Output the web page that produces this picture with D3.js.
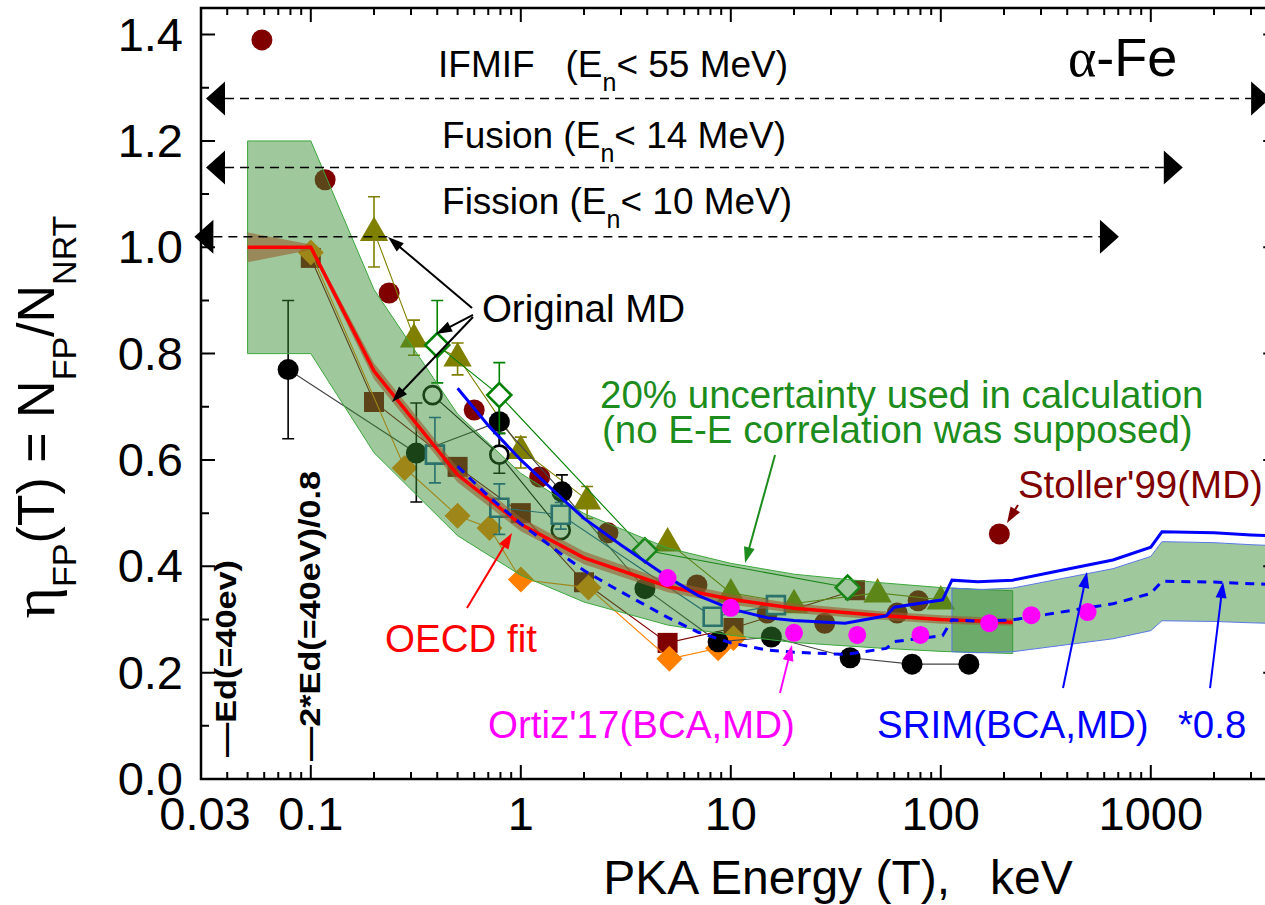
<!DOCTYPE html>
<html>
<head>
<meta charset="utf-8">
<script src="https://cdn.jsdelivr.net/npm/d3@7"></script>
<style>
  body { margin: 0; background: #fff; }
  svg { display: block; }
  text { font-family: "Liberation Sans", Arial, Helvetica, sans-serif; white-space: pre; }
</style>
</head>
<body>
<svg id="chart" width="1265" height="905"></svg>
<script>
// ---------------- axis ticks ----------------
const xTickValues = [0.03, 0.1, 1, 10, 100, 1000];
const xTickLabels = ["0.03", "0.1", "1", "10", "100", "1000"];
const yTickValues = [0, 0.2, 0.4, 0.6, 0.8, 1.0, 1.2, 1.4];
const yTickLabels = ["0.0", "0.2", "0.4", "0.6", "0.8", "1.0", "1.2", "1.4"];

// ---------------- OECD arc-dpa fit (keV, efficiency) ----------------
const fitEnergy = [0.05, 0.1, 0.2, 0.5, 1, 2, 5, 10, 20, 50, 100, 220];
const fitEta    = [1.0, 1.0, 0.767, 0.572, 0.479, 0.416, 0.362, 0.338, 0.321, 0.308, 0.300, 0.295];
const fitLow    = [0.972, 0.995, 0.752, 0.558, 0.466, 0.404, 0.351, 0.328, 0.312, 0.300, 0.292, 0.288];
const fitHigh   = [1.028, 1.005, 0.782, 0.586, 0.492, 0.428, 0.373, 0.348, 0.330, 0.316, 0.308, 0.302];
const uncertainty = 0.2;   // "20% uncertainty used in calculation"

// ---------------- SRIM (BCA,MD) ----------------
const srimEnergy = [0.5, 0.7, 1, 1.5, 2, 3, 5, 7, 10, 15, 20, 35, 55, 60, 102, 113, 150, 220, 320, 660, 1000, 1130, 2000, 3000, 4000];
const srimEta    = [0.735, 0.665, 0.60, 0.535, 0.49, 0.44, 0.38, 0.345, 0.32, 0.303, 0.298, 0.293, 0.307, 0.323, 0.337, 0.374, 0.371, 0.374, 0.387, 0.412, 0.436, 0.465, 0.463, 0.459, 0.457];
const srimScale = 0.8;        // "*0.8"
const srimBandFrom = 110;     // keV, start of the band around the scaled SRIM curve

// ---------------- Ortiz'17 (BCA,MD) ----------------
const ortizEnergy = [5, 10, 20, 40, 80, 170, 270, 500];
const ortizEta    = [0.378, 0.322, 0.275, 0.271, 0.271, 0.293, 0.308, 0.314];

// ---------------- Stoller'99 (MD) ----------------
const stollerEnergy = [190];
const stollerEta    = [0.461];

// ---------------- original MD sets ----------------
const mdCircleEnergy = [0.0585, 0.117, 0.236, 0.6, 1.23, 2.6, 6.9, 14.9, 28, 62, 78];
const mdCircleEta    = [1.39, 1.127, 0.914, 0.694, 0.568, 0.463, 0.365, 0.312, 0.293, 0.312, 0.335];

const mdSquareEnergy = [0.1, 0.2, 0.5, 1.0, 2.0, 5.0, 10.3, 39];
const mdSquareEta    = [0.98, 0.709, 0.587, 0.50, 0.37, 0.256, 0.284, 0.355];

const mdDiamondEnergy = [0.1, 0.28, 0.5, 0.71, 1.0, 2.1, 5.1, 8.7, 10.3];
const mdDiamondEta    = [0.99, 0.585, 0.495, 0.472, 0.375, 0.36, 0.226, 0.246, 0.265];

const mdTriangleEnergy = [0.2, 0.31, 0.5, 1.0, 2.07];
const mdTriangleEta    = [1.03, 0.83, 0.794, 0.62, 0.525];
const mdTriangleLow    = [0.963, 0.797, 0.76, 0.585, 0.49];
const mdTriangleHigh   = [1.095, 0.863, 0.82, 0.643, 0.55];

const mdTriangle2Energy = [5, 10, 20, 50, 100];
const mdTriangle2Eta    = [0.446, 0.35, 0.33, 0.35, 0.337];

const mdBlackEnergy = [0.078, 0.318, 0.79, 1.57, 3.9, 8.7, 15.6, 37, 73, 136];
const mdBlackEta    = [0.77, 0.613, 0.672, 0.54, 0.358, 0.258, 0.267, 0.228, 0.216, 0.216];
const mdBlackLow    = [0.64, 0.521, 0.61, 0.512, null, null, null, null, null, null];
const mdBlackHigh   = [0.90, 0.707, 0.73, 0.572, null, null, null, null, null, null];

const mdOpenEnergy = [0.38, 0.79, 1.55];
const mdOpenEta    = [0.722, 0.61, 0.468];
const mdOpenLow    = [null, 0.575, null];
const mdOpenHigh   = [null, 0.65, null];

const mdBlueEnergy = [0.39, 0.79, 1.55, 8.2, 16.4];
const mdBlueEta    = [0.61, 0.51, 0.497, 0.305, 0.327];
const mdBlueLow    = [0.557, 0.46, 0.47, null, null];
const mdBlueHigh   = [0.68, 0.555, 0.52, null, null];

const mdGreenEnergy = [0.4, 0.79, 3.9, 36];
const mdGreenEta    = [0.816, 0.722, 0.43, 0.36];
const mdGreenLow    = [0.745, 0.65, null, null];
const mdGreenHigh   = [0.9, 0.783, null, null];

// ---------------- neutron-source PKA ranges ----------------
const rangeNames  = ["IFMIF", "Fusion", "Fission"];
const rangeLimits = ["55", "14", "10"];
const rangeLevel  = [1.28, 1.15, 1.02];
const rangeMin    = [0.0317, 0.0317, 0.0279];
const rangeMax    = [3700, 1420, 705];

// displacement threshold (keV)
const Ed = 0.04;

// ---------------- scales ----------------
const svg = d3.select("#chart");
const x = d3.scaleLog().domain([0.03, 4000]).range([201, 201 + 210 * Math.log10(4000 / 0.03)]);
const y = d3.scaleLinear().domain([0, 1.45]).range([779, 8]);
const [X0, X1] = x.range();
const [Y0, Y1] = y.range();

svg.append("defs").append("clipPath").attr("id", "plot")
  .append("rect").attr("x", X0).attr("y", Y1).attr("width", X1 - X0).attr("height", Y0 - Y1);

const gData = svg.append("g").attr("clip-path", "url(#plot)");
const gBand = svg.append("g").attr("clip-path", "url(#plot)");
const gTop  = svg.append("g").attr("clip-path", "url(#plot)");
const gAnn  = svg.append("g");
const gAxes = svg.append("g");

const zip = (e, v) => e.map((d, i) => [d, v[i]]);
const line = d3.line().x(d => x(d[0])).y(d => y(d[1]));

function markerPath(shape, s) {
  switch (shape) {
    case "circle":   return `M${s},0A${s},${s} 0 1,1 ${-s},0A${s},${s} 0 1,1 ${s},0Z`;
    case "square":   return `M${-s},${-s}H${s}V${s}H${-s}Z`;
    case "diamond":  return `M0,${-s}L${s},0L0,${s}L${-s},0Z`;
    case "triangle": return `M0,${-s * 1.1}L${s * 1.05},${s * 0.72}L${-s * 1.05},${s * 0.72}Z`;
  }
}

// one MD data set: thin connecting line, error bars, markers
function mdSeries(energy, eta, low, high, st) {
  const pts = zip(energy, eta);
  if (st.line) {
    gData.append("path").attr("d", line(pts)).attr("fill", "none")
      .attr("stroke", st.line).attr("stroke-width", 1.1);
  }
  if (low) {
    energy.forEach((e, i) => {
      if (low[i] == null) return;
      const cx = x(e);
      gData.append("path")
        .attr("d", `M${cx},${y(low[i])}V${y(high[i])}M${cx - 6},${y(low[i])}H${cx + 6}M${cx - 6},${y(high[i])}H${cx + 6}`)
        .attr("stroke", st.err || st.color).attr("stroke-width", 1.6).attr("fill", "none");
    });
  }
  gData.selectAll(null).data(pts).enter().append("path")
    .attr("transform", d => `translate(${x(d[0])},${y(d[1])})`)
    .attr("d", markerPath(st.shape, st.size))
    .attr("fill", st.open ? "#fff" : st.color)
    .attr("stroke", st.color).attr("stroke-width", st.open ? 2.6 : 0);
}

mdSeries(mdCircleEnergy, mdCircleEta, null, null, { shape: "circle", size: 10.5, color: "#800000" });
mdSeries(mdSquareEnergy, mdSquareEta, null, null, { shape: "square", size: 10, color: "#800000", line: "#800000" });
mdSeries(mdDiamondEnergy, mdDiamondEta, null, null, { shape: "diamond", size: 13, color: "#ff8000", line: "#ff8000" });
mdSeries(mdTriangleEnergy, mdTriangleEta, mdTriangleLow, mdTriangleHigh, { shape: "triangle", size: 13.5, color: "#808000", line: "#808000" });
mdSeries(mdTriangle2Energy, mdTriangle2Eta, null, null, { shape: "triangle", size: 13.5, color: "#808000", line: "#808000" });
mdSeries(mdBlackEnergy, mdBlackEta, mdBlackLow, mdBlackHigh, { shape: "circle", size: 10.5, color: "#000", line: "#444" });
mdSeries(mdOpenEnergy, mdOpenEta, mdOpenLow, mdOpenHigh, { shape: "circle", size: 9, color: "#000", open: true, line: "#000" });
mdSeries(mdBlueEnergy, mdBlueEta, mdBlueLow, mdBlueHigh, { shape: "square", size: 9, color: "#1f5aa0", open: true, line: "#1f5aa0" });
mdSeries(mdGreenEnergy, mdGreenEta, mdGreenLow, mdGreenHigh, { shape: "diamond", size: 12, color: "#008000", open: true, line: "#008000" });

// ---------------- uncertainty bands ----------------
const area = d3.area().x(d => x(d[0])).y0(d => y(d[1])).y1(d => y(d[2]));
const fitBand = fitEnergy.map((e, i) => [e, fitEta[i] * (1 - uncertainty), fitEta[i] * (1 + uncertainty)]);
gBand.append("path").attr("d", area(fitBand))
  .attr("fill", "rgb(55,140,50)").attr("fill-opacity", 0.48)
  .attr("stroke", "#3ca83c").attr("stroke-width", 1);

const srimScaled = srimEnergy.map((e, i) => [e, srimEta[i] * srimScale]);
const srimBand = srimScaled.filter(d => d[0] >= srimBandFrom)
  .map(d => [d[0], d[1] * (1 - uncertainty), d[1] * (1 + uncertainty)]);
gBand.append("path").attr("d", area(srimBand))
  .attr("fill", "rgb(55,140,50)").attr("fill-opacity", 0.48)
  .attr("stroke", "#5a78e6").attr("stroke-width", 1);

// fit error corridor
gBand.append("path").attr("d", area(fitEnergy.map((e, i) => [e, fitLow[i], fitHigh[i]])))
  .attr("fill", "rgb(150,95,45)").attr("fill-opacity", 0.6);

// ---------------- fit and SRIM curves ----------------
gTop.append("path").attr("d", line(zip(fitEnergy, fitEta)))
  .attr("fill", "none").attr("stroke", "#ff0000").attr("stroke-width", 3.5);
gTop.append("path").attr("d", line(zip(srimEnergy, srimEta)))
  .attr("fill", "none").attr("stroke", "#0000ff").attr("stroke-width", 3);
gTop.append("path").attr("d", line(srimScaled))
  .attr("fill", "none").attr("stroke", "#0000ff").attr("stroke-width", 3).attr("stroke-dasharray", "9,7");

gTop.selectAll(null).data(zip(ortizEnergy, ortizEta)).enter().append("circle")
  .attr("cx", d => x(d[0])).attr("cy", d => y(d[1])).attr("r", 9).attr("fill", "#ff00ff");
gTop.selectAll(null).data(zip(stollerEnergy, stollerEta)).enter().append("circle")
  .attr("cx", d => x(d[0])).attr("cy", d => y(d[1])).attr("r", 10.5).attr("fill", "#800000");

// ---------------- neutron-source ranges ----------------
function bigHead(g, tipX, cy, dir) {
  const L = 19, h = 17;
  g.append("path").attr("d", `M${tipX},${cy}L${tipX - dir * L},${cy - h}L${tipX - dir * L},${cy + h}Z`).attr("fill", "#000");
}
rangeNames.forEach((name, i) => {
  const cy = y(rangeLevel[i]);
  const xl = x(rangeMin[i]), xr = x(rangeMax[i]);
  gAnn.append("line").attr("x1", xl + 19).attr("x2", xr - 19).attr("y1", cy).attr("y2", cy)
    .attr("stroke", "#000").attr("stroke-width", 1.5).attr("stroke-dasharray", "9,6");
  bigHead(gAnn, xl, cy, -1);
  bigHead(gAnn, xr, cy, 1);
});

// ---------------- labels ----------------
function richText(g, e, v, parts, opts) {
  const t = g.append("text").attr("x", x(e)).attr("y", y(v))
    .attr("font-size", opts.size).attr("fill", opts.color || "#000");
  let shifted = 0;
  parts.forEach(p => {
    const s = t.append("tspan").text(p.t);
    const want = p.sub ? opts.subShift : 0;
    if (want !== shifted) { s.attr("dy", want - shifted); shifted = want; }
    if (p.sub) s.attr("font-size", opts.subSize);
  });
  return t;
}

const rangeLabelAt = [[0.4035, 1.3203], [0.4216, 1.1867], [0.4216, 1.0626]];
const rangeLabelGap = ["   ", " ", " "];
rangeNames.forEach((name, i) => {
  richText(gAnn, rangeLabelAt[i][0], rangeLabelAt[i][1],
    [{ t: `${name}${rangeLabelGap[i]}(E` }, { t: "n", sub: true }, { t: `< ${rangeLimits[i]} MeV)` }],
    { size: 37, subSize: 25, subShift: 14 });
});

// material
const fe = gAnn.append("text").attr("x", x(403.5)).attr("y", y(1.3221)).attr("font-size", 54);
fe.append("tspan").attr("font-family", "'Liberation Serif', 'DejaVu Serif', serif").text("α");
fe.append("tspan").text("-Fe");

const notes = [
  { t: "Original MD", e: 0.653, v: 0.8595, c: "#000" },
  { t: "20% uncertainty used in calculation", e: 2.383, v: 0.6977, c: "#1c8c1c" },
  { t: "(no E-E correlation was supposed)", e: 2.436, v: 0.6319, c: "#1c8c1c" },
  { t: "Stoller'99(MD)", e: 233, v: 0.5285, c: "#800000" },
  { t: "OECD fit", e: 0.2257, v: 0.2388, c: "#ff0000" },
  { t: "Ortiz'17(BCA,MD)", e: 0.698, v: 0.0771, c: "#ff00ff" },
  { t: "SRIM(BCA,MD)", e: 49.7, v: 0.0771, c: "#0000ff" },
  { t: "*0.8", e: 1346, v: 0.0771, c: "#0000ff" }
];
notes.forEach(n => {
  gAnn.append("text").attr("x", x(n.e)).attr("y", y(n.v)).attr("font-size", 38.5)
    .attr("fill", n.c).text(n.t);
});

function arrow(g, e0, v0, e1, v1, color) {
  const x0 = x(e0), y0 = y(v0), x1 = x(e1), y1 = y(v1);
  const dx = x1 - x0, dy = y1 - y0, L = Math.hypot(dx, dy), ux = dx / L, uy = dy / L;
  const hl = 16, hw = 5.5;
  const bx = x1 - ux * hl, by = y1 - uy * hl;
  g.append("line").attr("x1", x0).attr("y1", y0).attr("x2", bx + ux * 3).attr("y2", by + uy * 3)
    .attr("stroke", color).attr("stroke-width", 2);
  g.append("path").attr("d", `M${x1},${y1}L${bx - uy * hw},${by + ux * hw}L${bx + uy * hw},${by - ux * hw}Z`)
    .attr("fill", color);
}
const arrows = [
  [0.5857, 0.8858, 0.2332, 1.0193, "#000"],
  [0.592, 0.8727, 0.3946, 0.8369, "#000"],
  [0.592, 0.8689, 0.2436, 0.7091, "#000"],
  [16.24, 0.6093, 11.69, 0.4062, "#1c8c1c"],
  [0.5544, 0.3216, 0.908, 0.4627, "#ff0000"],
  [17.15, 0.1617, 19.56, 0.252, "#ff00ff"],
  [233, 0.5153, 206.6, 0.4815, "#800000"],
  [381.9, 0.1711, 496.8, 0.3893, "#0000ff"],
  [1915, 0.1711, 2208, 0.3705, "#0000ff"]
];
arrows.forEach(a => arrow(gAnn, a[0], a[1], a[2], a[3], a[4]));

// threshold markers on the energy axis
[[Ed, "\u2014Ed(=40ev)", 0.0, 197], [2 * Ed / 0.8, "\u20142*Ed(=40eV)/0.8", 0.017, 290]].forEach(m => {
  const px = x(m[0]) + 9, py = y(m[2]) - 22 + (m[2] ? 13 : 0);
  gAnn.append("text").attr("transform", `translate(${px},${py}) rotate(-90)`)
    .attr("font-size", 29).attr("font-weight", "bold")
    .attr("textLength", m[3]).attr("lengthAdjust", "spacingAndGlyphs").text(m[1]);
});

// ---------------- axes ----------------
const minorX = [];
for (let dec = 0.01; dec < 4000; dec *= 10) {
  for (let k = 2; k <= 9; k++) {
    const v = k * dec;
    if (v > 0.03 && v <= 4000 && xTickValues.indexOf(v) < 0) minorX.push(v);
  }
}
const majorX = xTickValues.filter(v => v > 0.03);
const ax = gAxes.append("g").attr("stroke", "#000").attr("stroke-width", 2).attr("fill", "none");
majorX.forEach(v => {
  ax.append("path").attr("d", `M${x(v)},${Y0}V${Y0 - 14}M${x(v)},${Y1}V${Y1 + 14}`);
});
minorX.forEach(v => {
  ax.append("path").attr("d", `M${x(v)},${Y0}V${Y0 - 7}M${x(v)},${Y1}V${Y1 + 7}`);
});
for (let i = 1; i <= 14; i++) {
  const v = i / 10, major = i % 2 === 0, len = major ? 14 : 8;
  ax.append("path").attr("d", `M${X0},${y(v)}H${X0 + len}M${X1},${y(v)}H${X1 - len}`);
}
gAxes.append("rect").attr("x", X0).attr("y", Y1).attr("width", X1 - X0).attr("height", Y0 - Y1)
  .attr("fill", "none").attr("stroke", "#000").attr("stroke-width", 2.5);

xTickValues.forEach((v, i) => {
  gAxes.append("text").attr("x", x(v) + (i === 0 ? 4 : 0)).attr("y", Y0 + 51)
    .attr("text-anchor", "middle").attr("font-size", 47).text(xTickLabels[i]);
});
yTickValues.forEach((v, i) => {
  gAxes.append("text").attr("x", X0 - 18).attr("y", y(v) + 16)
    .attr("text-anchor", "end").attr("font-size", 47).text(yTickLabels[i]);
});

gAxes.append("text").attr("x", 838).attr("y", 894).attr("text-anchor", "middle")
  .attr("font-size", 48).text("PKA Energy (T),   keV");

const yt = gAxes.append("text").attr("transform", "translate(54,417) rotate(-90)")
  .attr("text-anchor", "middle").attr("font-size", 52);
yt.append("tspan").attr("font-family", "'Liberation Serif', 'DejaVu Serif', serif").attr("font-size", 60).text("η");
yt.append("tspan").attr("font-size", 34).attr("dy", 22).text("FP");
yt.append("tspan").attr("dy", -22).text("(T) = N");
yt.append("tspan").attr("font-size", 34).attr("dy", 22).text("FP");
yt.append("tspan").attr("dy", -22).text("/N");
yt.append("tspan").attr("font-size", 34).attr("dy", 22).text("NRT");
</script>
</body>
</html>
